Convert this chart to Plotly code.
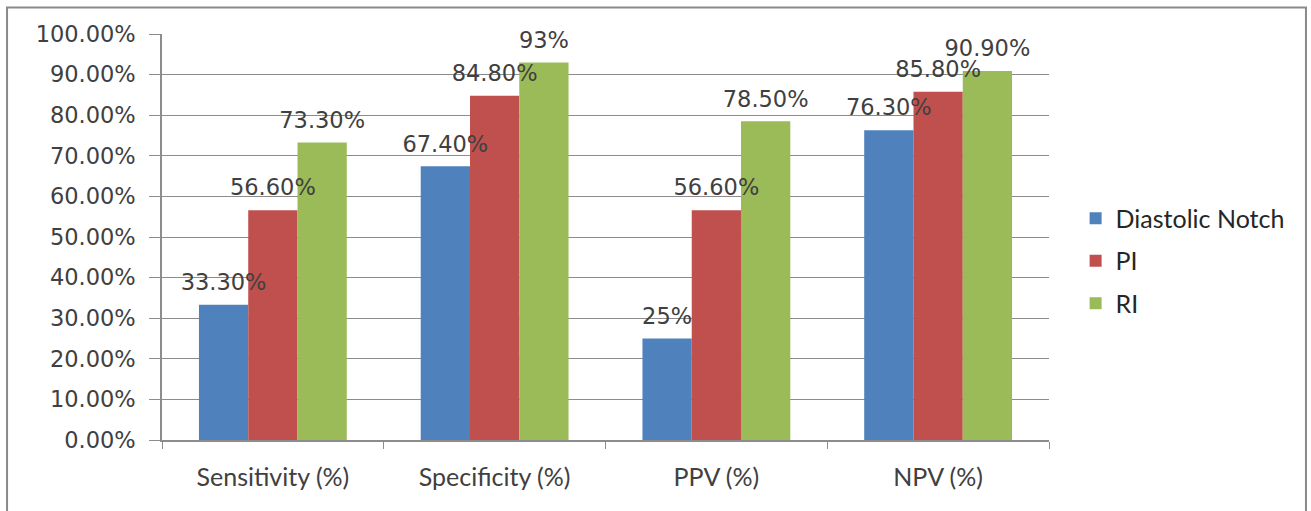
import plotly.graph_objects as go

# Diagnostic performance of the Doppler indices
categories = ["Sensitivity (%)", "Specificity (%)", "PPV (%)", "NPV (%)"]
diastolic_notch = [33.3, 67.4, 25.0, 76.3]
pi_values = [56.6, 84.8, 56.6, 85.8]
ri_values = [73.3, 93.0, 78.5, 90.9]
value_labels = {
    "Diastolic Notch": ["33.30%", "67.40%", "25%", "76.30%"],
    "PI": ["56.60%", "84.80%", "56.60%", "85.80%"],
    "RI": ["73.30%", "93%", "78.50%", "90.90%"],
}
y_ticks = [0, 10, 20, 30, 40, 50, 60, 70, 80, 90, 100]
y_tick_labels = ["%.2f%%" % v for v in y_ticks]

series = [
    ("Diastolic Notch", diastolic_notch, "#4F81BD"),
    ("PI", pi_values, "#C0504D"),
    ("RI", ri_values, "#9BBB59"),
]

LABEL_FONT = dict(family="DejaVu Sans", size=22.5, color="#404040")
CAT_FONT = dict(family="Lato", size=25, color="#404040")
GAP = 1 / 3

fig = go.Figure()
for name, vals, color in series:
    fig.add_trace(go.Bar(
        name=name, x=categories, y=vals,
        marker=dict(color=color, line=dict(width=0)),
        offsetgroup=name, legendgroup=name,
    ))
# value labels sit a little above each bar
for name, vals, color in series:
    fig.add_trace(go.Scatter(
        x=categories, y=vals, mode="markers+text",
        text=value_labels[name], textposition="top center",
        textfont=LABEL_FONT,
        marker=dict(size=13, opacity=0),
        offsetgroup=name, showlegend=False, hoverinfo="skip",
        cliponaxis=False,
    ))

fig.update_layout(
    width=1311, height=511,
    margin=dict(l=162, r=262, t=34, b=71),
    paper_bgcolor="white", plot_bgcolor="white",
    barmode="group", bargap=GAP, bargroupgap=0,
    scattermode="group", scattergap=GAP,
    showlegend=True,
    legend=dict(
        x=1.03, xanchor="left", xref="paper", y=0.441, yanchor="middle",
        font=dict(family="Lato", size=25, color="#262626"),
        tracegroupgap=7, traceorder="grouped",
        bgcolor="rgba(0,0,0,0)",
    ),
    shapes=[dict(
        type="rect", xref="paper", yref="paper",
        x0=-0.1747, x1=1.2897, y0=-0.2, y1=1.0653,
        line=dict(color="#8a8a8a", width=2), fillcolor="rgba(0,0,0,0)",
        layer="below",
    )],
)
fig.update_xaxes(
    showline=True, linecolor="#8c8c8c", linewidth=1.5,
    ticks="outside", tickson="boundaries", ticklen=7, tickcolor="#8c8c8c",
    tickfont=CAT_FONT, showgrid=False, ticklabelstandoff=14,
)
fig.update_yaxes(
    range=[0, 100], tickvals=y_ticks, ticktext=y_tick_labels,
    showline=True, linecolor="#8c8c8c", linewidth=1.5,
    ticks="outside", ticklen=11, tickcolor="#8c8c8c",
    showgrid=True, gridcolor="#8c8c8c", gridwidth=1.2,
    zeroline=False, tickfont=LABEL_FONT, ticklabelstandoff=9,
)

fig.write_html("out.html")
